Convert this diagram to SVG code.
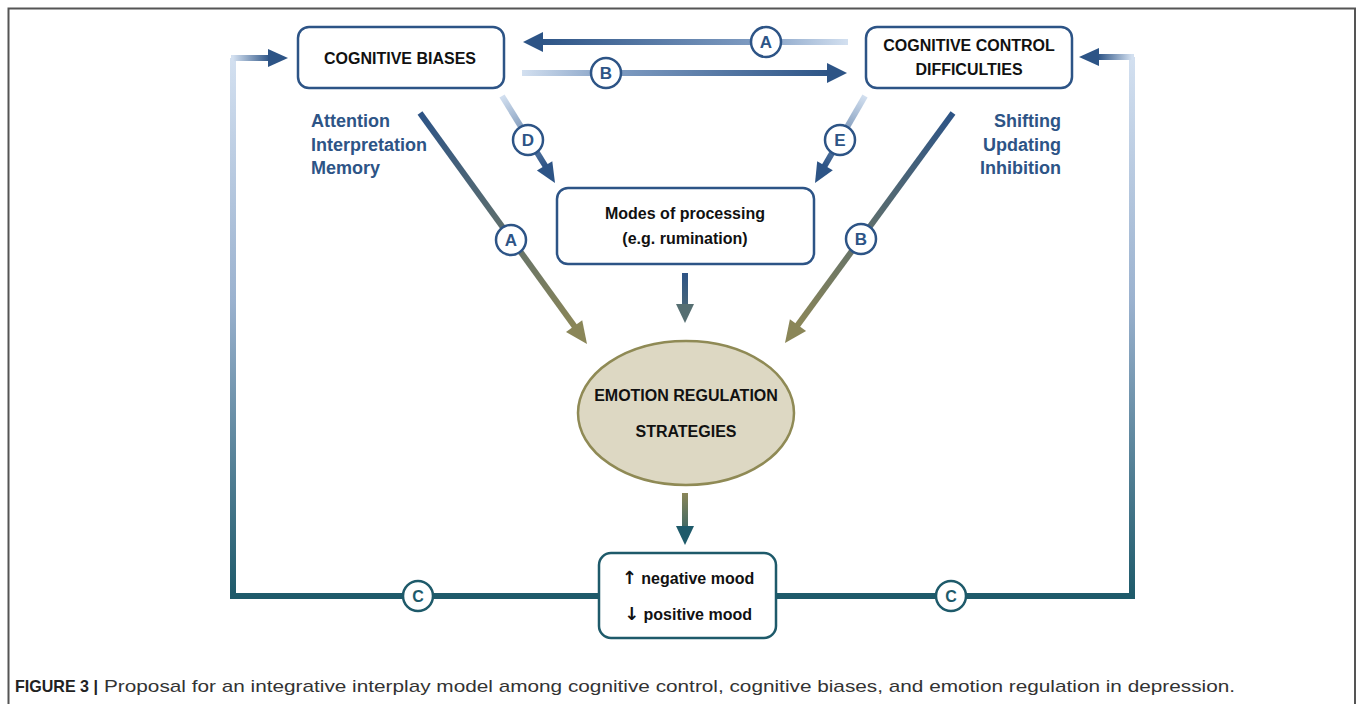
<svg xmlns="http://www.w3.org/2000/svg" width="1358" height="704" viewBox="0 0 1358 704">
<style>
.box{fill:#fff;stroke:#2d5486;stroke-width:2.5}
.t{font-family:"Liberation Sans",Arial,sans-serif;font-weight:bold;font-size:16px;fill:#111;text-anchor:middle}
.ar{font-family:"DejaVu Sans",sans-serif;font-weight:bold;font-size:18px}
.lbl{font-family:"Liberation Sans",Arial,sans-serif;font-weight:bold;font-size:18px;fill:#2d5486}
.cb{fill:#fff;stroke:#2d5486;stroke-width:2.5}
.ct{font-family:"Liberation Sans",Arial,sans-serif;font-weight:bold;font-size:17px;fill:#2d5486;text-anchor:middle}
.cc{fill:#fff;stroke:#1e5a6a;stroke-width:2.5}
.cct{font-family:"Liberation Sans",Arial,sans-serif;font-weight:bold;font-size:16px;fill:#1e5a6a;text-anchor:middle}
.sh{fill:none;stroke-width:6}
</style>
<defs>
<linearGradient id="gLoopL" gradientUnits="userSpaceOnUse" x1="233" y1="58" x2="233" y2="596">
<stop offset="0" stop-color="#d3e0f0"/><stop offset="0.45" stop-color="#9bb2cf"/><stop offset="1" stop-color="#1e5a6a"/>
</linearGradient>
<linearGradient id="gLoopR" gradientUnits="userSpaceOnUse" x1="1132" y1="57" x2="1132" y2="596">
<stop offset="0" stop-color="#d3e0f0"/><stop offset="0.45" stop-color="#9bb2cf"/><stop offset="1" stop-color="#1e5a6a"/>
</linearGradient>
<linearGradient id="gTopL" gradientUnits="userSpaceOnUse" x1="233" y1="0" x2="270" y2="0">
<stop offset="0" stop-color="#d3e0f0"/><stop offset="1" stop-color="#2d5486"/>
</linearGradient>
<linearGradient id="gTopR" gradientUnits="userSpaceOnUse" x1="1132" y1="0" x2="1098" y2="0">
<stop offset="0" stop-color="#d3e0f0"/><stop offset="1" stop-color="#2d5486"/>
</linearGradient>
<linearGradient id="gA" gradientUnits="userSpaceOnUse" x1="848" y1="0" x2="540" y2="0">
<stop offset="0" stop-color="#d3e0f0"/><stop offset="0.3" stop-color="#7f9cc2"/><stop offset="1" stop-color="#2d5486"/>
</linearGradient>
<linearGradient id="gB" gradientUnits="userSpaceOnUse" x1="522" y1="0" x2="830" y2="0">
<stop offset="0" stop-color="#d3e0f0"/><stop offset="0.3" stop-color="#7f9cc2"/><stop offset="1" stop-color="#2d5486"/>
</linearGradient>
<linearGradient id="gD" gradientUnits="userSpaceOnUse" x1="502" y1="96" x2="545" y2="166">
<stop offset="0" stop-color="#d3e0f0"/><stop offset="1" stop-color="#2d5486"/>
</linearGradient>
<linearGradient id="gE" gradientUnits="userSpaceOnUse" x1="865" y1="96" x2="825" y2="166">
<stop offset="0" stop-color="#d3e0f0"/><stop offset="1" stop-color="#2d5486"/>
</linearGradient>
<linearGradient id="gDA" gradientUnits="userSpaceOnUse" x1="420" y1="113" x2="574" y2="326">
<stop offset="0" stop-color="#2d5486"/><stop offset="0.55" stop-color="#5f6f6c"/><stop offset="1" stop-color="#8a8658"/>
</linearGradient>
<linearGradient id="gDB" gradientUnits="userSpaceOnUse" x1="953" y1="113" x2="798" y2="325">
<stop offset="0" stop-color="#2d5486"/><stop offset="0.55" stop-color="#5f6f6c"/><stop offset="1" stop-color="#8a8658"/>
</linearGradient>
<linearGradient id="gM" gradientUnits="userSpaceOnUse" x1="0" y1="273" x2="0" y2="323">
<stop offset="0" stop-color="#2d5486"/><stop offset="1" stop-color="#566f72"/>
</linearGradient>
<linearGradient id="gER" gradientUnits="userSpaceOnUse" x1="0" y1="493" x2="0" y2="545">
<stop offset="0" stop-color="#8a8658"/><stop offset="1" stop-color="#1e5a6a"/>
</linearGradient>
</defs>

<rect x="0" y="0" width="1358" height="704" fill="#fff"/>
<path d="M8.5,704 V8.5 H1355 V704" fill="none" stroke="#555" stroke-width="2"/>

<g id="connectors">
<path class="sh" d="M233,58 V596 H599" stroke="url(#gLoopL)" stroke-width="5"/>
<path class="sh" d="M1132,57 V596 H776" stroke="url(#gLoopR)" stroke-width="5"/>
<path class="sh" d="M231,58 H270" stroke="url(#gTopL)" stroke-width="6"/>
<polygon points="268,49 288,58 268,67" fill="#2d5486"/>
<path class="sh" d="M1134,57 H1097" stroke="url(#gTopR)" stroke-width="6"/>
<polygon points="1099,48 1079,57 1099,66" fill="#2d5486"/>
<path class="sh" d="M848,42 H541" stroke="url(#gA)"/>
<polygon points="543,32 523,42 543,52" fill="#2d5486"/>
<path class="sh" d="M522,73 H829" stroke="url(#gB)"/>
<polygon points="827,63 847,73 827,83" fill="#2d5486"/>
<path class="sh" d="M502,96 L546,167" stroke="url(#gD)"/>
<polygon points="536.9,170.6 555,183 552.3,161.2" fill="#2d5486"/>
<path class="sh" d="M865,96 L824,167" stroke="url(#gE)"/>
<polygon points="817.2,161.2 815,183 832.8,170.2" fill="#2d5486"/>
<path class="sh" d="M420,113 L575,327" stroke="url(#gDA)"/>
<polygon points="566,332.1 587,344 582.2,320.3" fill="#8a8658"/>
<path class="sh" d="M953,113 L797,326" stroke="url(#gDB)"/>
<polygon points="789.9,319.3 785,343 806.1,331.1" fill="#8a8658"/>
<path class="sh" d="M685,273 V306" stroke="url(#gM)"/>
<polygon points="676,304 685,323 694,304" fill="#566f72"/>
<path class="sh" d="M685,493 V528" stroke="url(#gER)"/>
<polygon points="676,526 685,545 694,526" fill="#1e5a6a"/>
<circle class="cb" cx="766" cy="42" r="15"/><text class="ct" x="766" y="48">A</text>
<circle class="cb" cx="606" cy="73" r="15"/><text class="ct" x="606" y="79">B</text>
<circle class="cb" cx="528" cy="140" r="15"/><text class="ct" x="528" y="146">D</text>
<circle class="cb" cx="840" cy="140" r="15"/><text class="ct" x="840" y="146">E</text>
<circle class="cb" cx="511" cy="240" r="15"/><text class="ct" x="511" y="246">A</text>
<circle class="cb" cx="861" cy="239" r="15"/><text class="ct" x="861" y="245">B</text>
<circle class="cc" cx="418" cy="596" r="15"/><text class="cct" x="418" y="602">C</text>
<circle class="cc" cx="951" cy="596" r="15"/><text class="cct" x="951" y="602">C</text>
</g>

<g id="cognitive-biases">
<rect class="box" x="298" y="27" width="206" height="61" rx="11"/>
<text class="t" x="400" y="64">COGNITIVE BIASES</text>
</g>
<g id="biases-labels">
<text class="lbl" x="311" y="127">Attention</text>
<text class="lbl" x="311" y="151">Interpretation</text>
<text class="lbl" x="311" y="174">Memory</text>
</g>

<g id="cognitive-control">
<rect class="box" x="866" y="27" width="206" height="61" rx="11"/>
<text class="t" x="969" y="51">COGNITIVE CONTROL</text>
<text class="t" x="969" y="75">DIFFICULTIES</text>
</g>
<g id="control-labels">
<text class="lbl" x="1061" y="127" text-anchor="end">Shifting</text>
<text class="lbl" x="1061" y="151" text-anchor="end">Updating</text>
<text class="lbl" x="1061" y="174" text-anchor="end">Inhibition</text>
</g>

<g id="modes">
<rect class="box" x="557" y="188" width="257" height="76" rx="11"/>
<text class="t" x="685" y="219">Modes of processing</text>
<text class="t" x="685" y="244">(e.g. rumination)</text>
</g>

<g id="emotion-regulation">
<ellipse cx="686" cy="413" rx="108" ry="72" fill="#ddd8c3" stroke="#8f8a55" stroke-width="2.5"/>
<text class="t" x="686" y="401">EMOTION REGULATION</text>
<text class="t" x="686" y="437">STRATEGIES</text>
</g>

<g id="mood">
<rect x="599" y="553" width="177" height="85" rx="12" fill="#fff" stroke="#1e5a6a" stroke-width="2.5"/>
<text class="t" x="688" y="584"><tspan class="ar">↑</tspan> negative mood</text>
<text class="t" x="688" y="620"><tspan class="ar">↓</tspan> positive mood</text>
</g>

<g id="caption">
<text x="15" y="692" font-family="'Liberation Sans',Arial,sans-serif" font-size="17" font-weight="bold" fill="#222" textLength="83" lengthAdjust="spacingAndGlyphs">FIGURE 3 |</text>
<text x="104" y="692" font-family="'Liberation Sans',Arial,sans-serif" font-size="17" fill="#333" textLength="1131" lengthAdjust="spacingAndGlyphs">Proposal for an integrative interplay model among cognitive control, cognitive biases, and emotion regulation in depression.</text>
</g>
</svg>
